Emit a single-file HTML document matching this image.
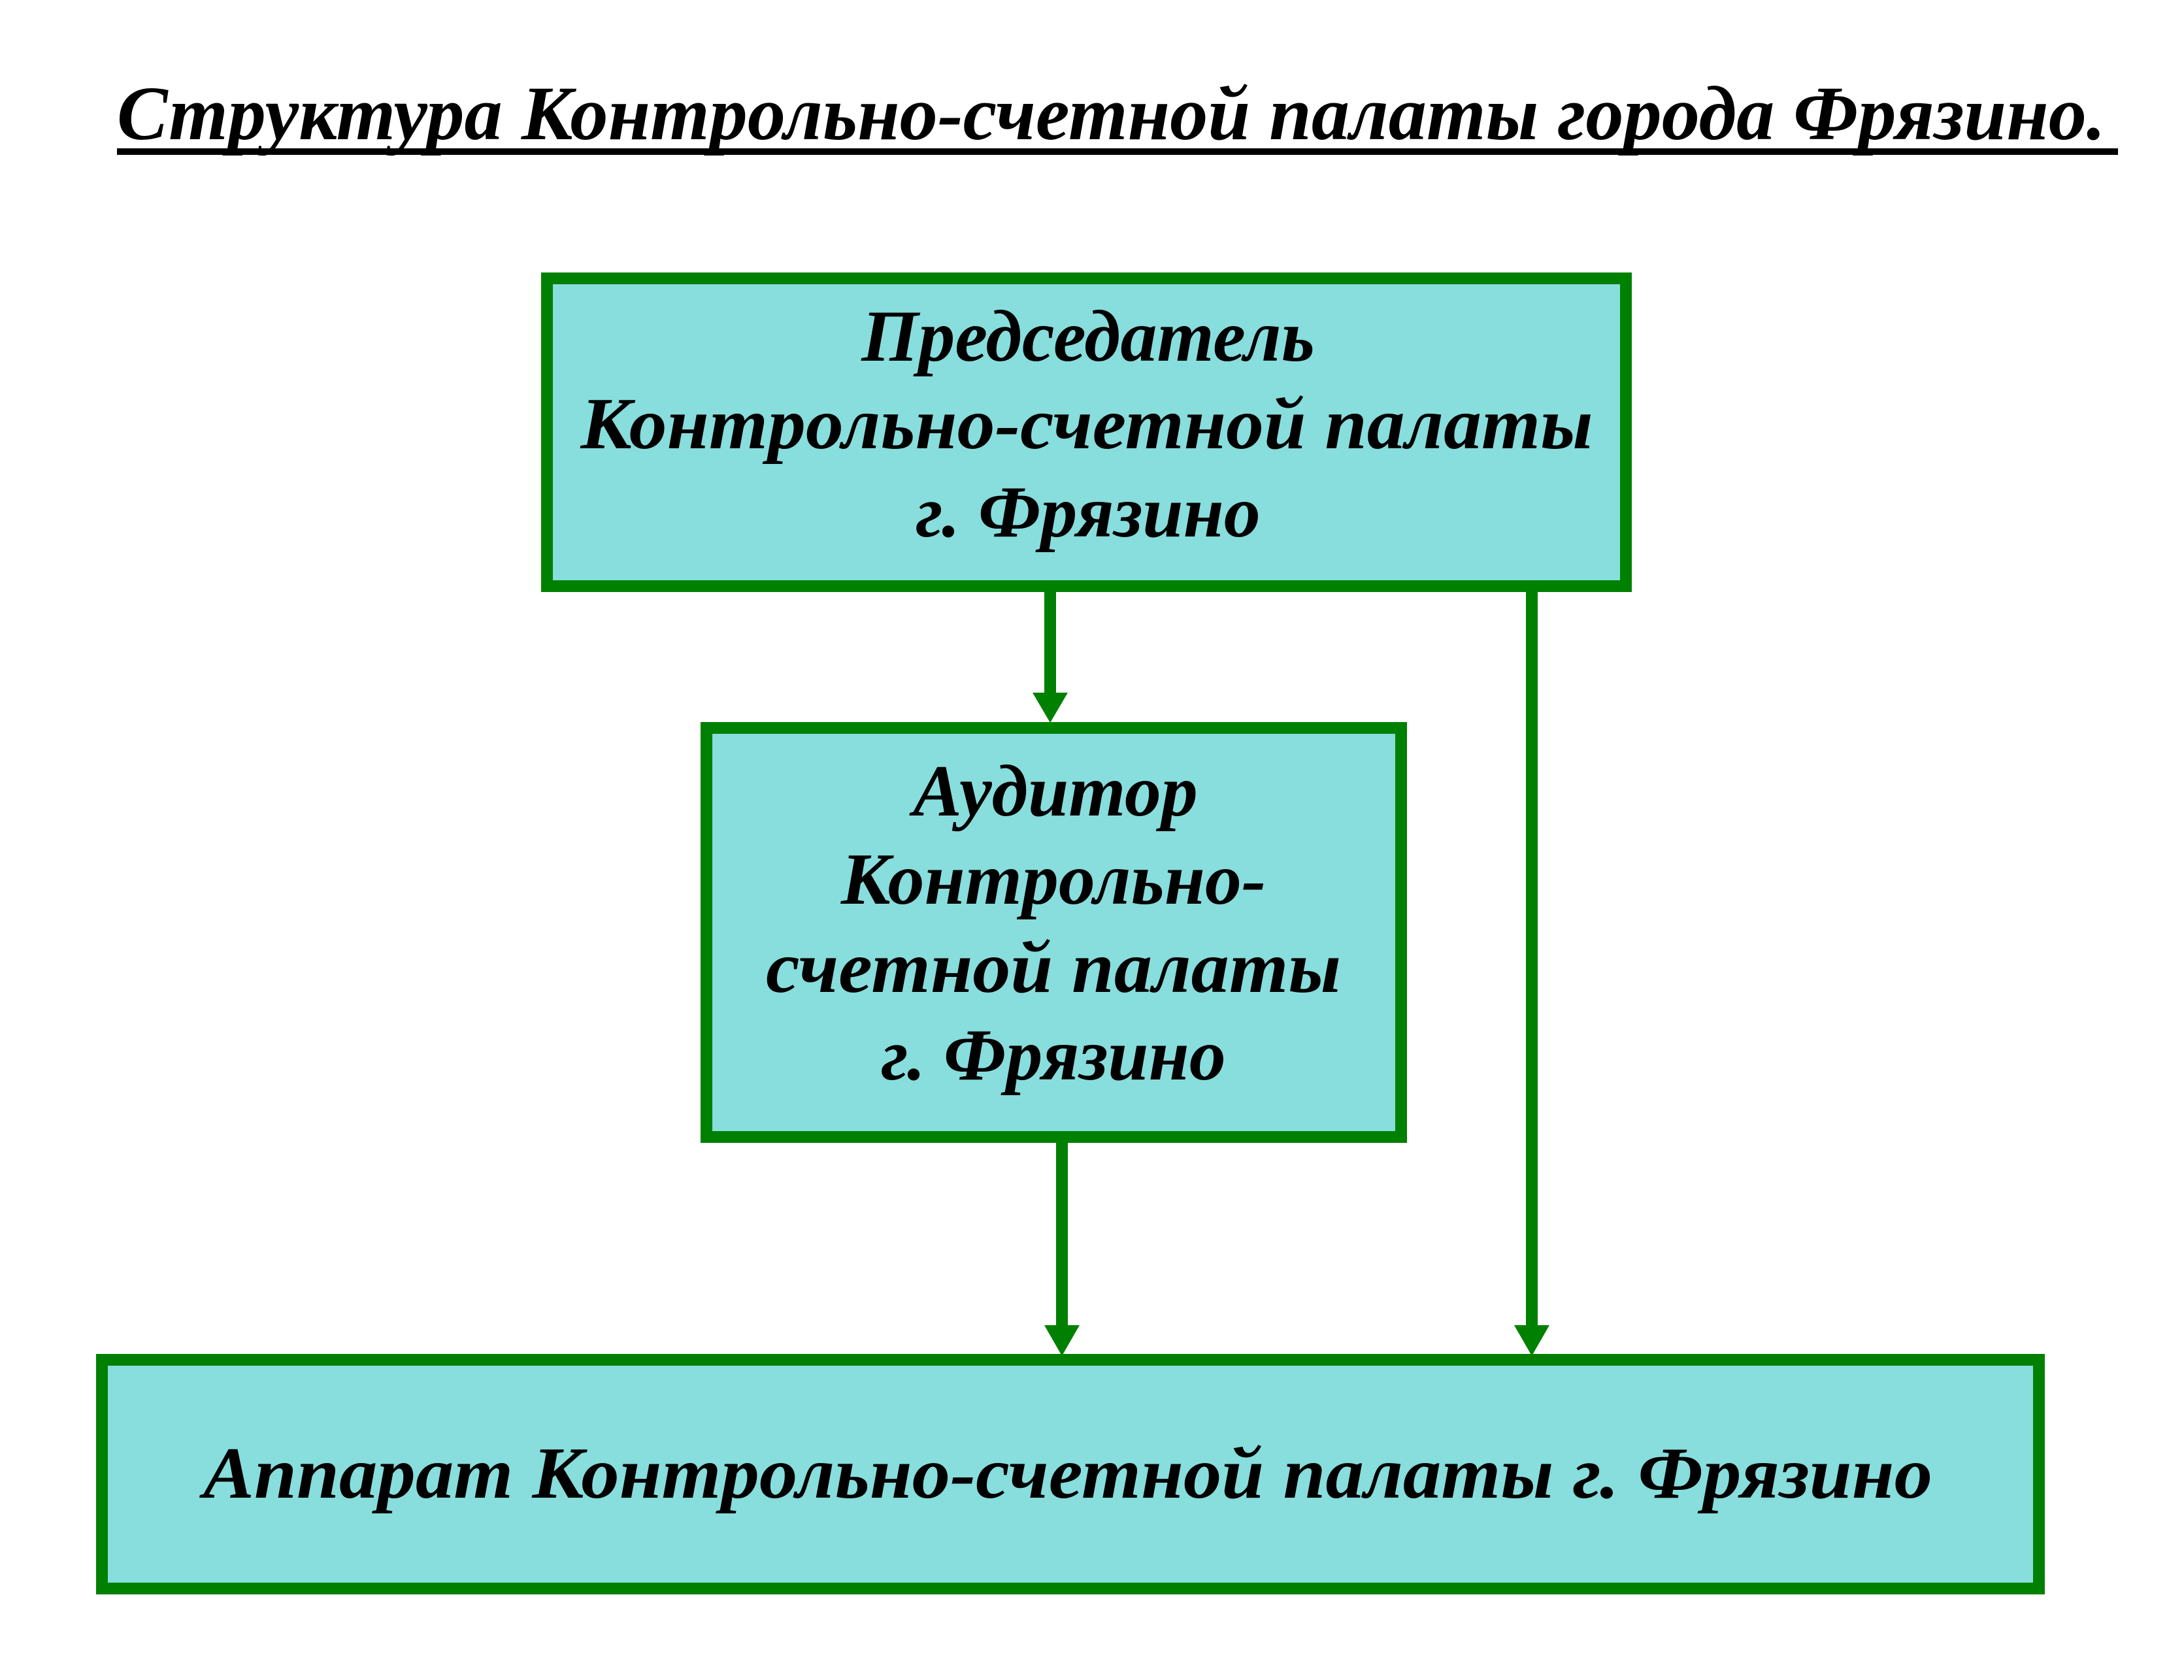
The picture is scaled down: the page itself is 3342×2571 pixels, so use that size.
<!DOCTYPE html>
<html><head><meta charset="utf-8"><style>html,body{margin:0;padding:0;background:#fff}svg{display:block}</style></head>
<body>
<svg width="3342" height="2571" viewBox="0 0 3342 2571" xmlns="http://www.w3.org/2000/svg" font-family="'Liberation Serif','DejaVu Serif',serif" font-weight="bold" font-style="italic">
<rect width="3342" height="2571" fill="#fff"/>
<text x="179" y="213" font-size="118" textLength="3043" lengthAdjust="spacingAndGlyphs">Структура Контрольно-счетной палаты города Фрязино.</text>
<rect x="179" y="227" width="3062" height="10" fill="#000"/>

<rect x="837" y="426" width="1651" height="471" fill="#88dddd" stroke="#008000" stroke-width="18"/>
<g font-size="112" text-anchor="middle">
<text x="1665" y="552">Председатель</text>
<text x="1663" y="686" textLength="1549" lengthAdjust="spacingAndGlyphs">Контрольно-счетной палаты</text>
<text x="1665" y="821">г. Фрязино</text>
</g>

<rect x="1081" y="1114" width="1063" height="626" fill="#88dddd" stroke="#008000" stroke-width="18"/>
<g font-size="112" text-anchor="middle">
<text x="1615" y="1248">Аудитор</text>
<text x="1612" y="1383">Контрольно-</text>
<text x="1612" y="1518" textLength="880" lengthAdjust="spacingAndGlyphs">счетной палаты</text>
<text x="1612" y="1652">г. Фрязино</text>
</g>

<rect x="156" y="2081" width="2964" height="350" fill="#88dddd" stroke="#008000" stroke-width="18"/>
<text x="311" y="2292" font-size="112" textLength="2646" lengthAdjust="spacingAndGlyphs">Аппарат Контрольно-счетной палаты г. Фрязино</text>

<g fill="#008000">
<rect x="1598" y="905" width="18" height="160"/>
<polygon points="1580,1060 1634,1060 1607,1106"/>
<rect x="1616" y="1748" width="18" height="285"/>
<polygon points="1598,2028 1652,2028 1625,2075"/>
<rect x="2335" y="905" width="18" height="1128"/>
<polygon points="2317,2028 2371,2028 2344,2075"/>
</g>
</svg>
</body></html>
